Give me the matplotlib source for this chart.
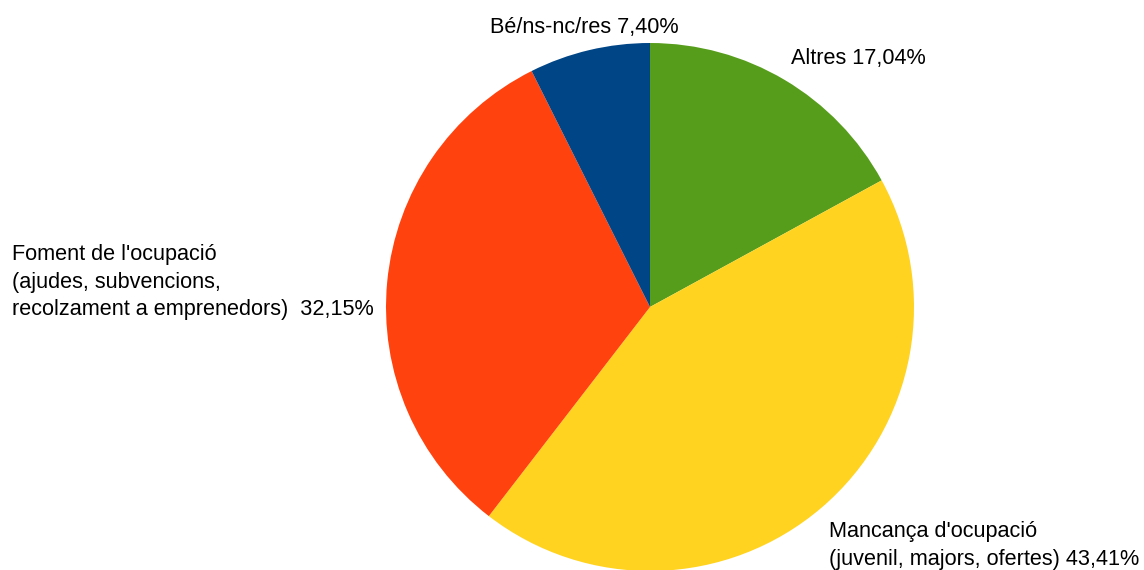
import matplotlib.pyplot as plt

plt.rcParams['font.family'] = ['Liberation Sans', 'DejaVu Sans']

labels = ["Altres 17,04%",
          "Mancança d'ocupació\n(juvenil, majors, ofertes) 43,41%",
          "Foment de l'ocupació\n(ajudes, subvencions,\nrecolzament a emprenedors)  32,15%",
          "Bé/ns-nc/res 7,40%"]
values = [17.04, 43.41, 32.15, 7.40]
colors = ['#579d1c', '#ffd320', '#ff420e', '#004586']

W, H = 1144, 570

fig = plt.figure(figsize=(W / 100, H / 100), dpi=100)
ax = fig.add_axes([0, 0, 1, 1])

# pie in pixel-like data coords (y flipped)
ax.pie(values, colors=colors, startangle=90, counterclock=False,
       center=(650, H - 307), radius=264, frame=True)
ax.set_xlim(0, W)
ax.set_ylim(0, H)
ax.set_aspect('equal')
ax.axis('off')

# label anchors: left x, top y (pixels from top)
label_pos = [(791, 48), (829, 521), (12, 244), (490, 17)]
for txt, (x, y) in zip(labels, label_pos):
    ax.text(x, H - y, txt, ha='left', va='top', fontsize=15.6,
            linespacing=1.42, color='black')

fig.savefig('out.png', dpi=100)
